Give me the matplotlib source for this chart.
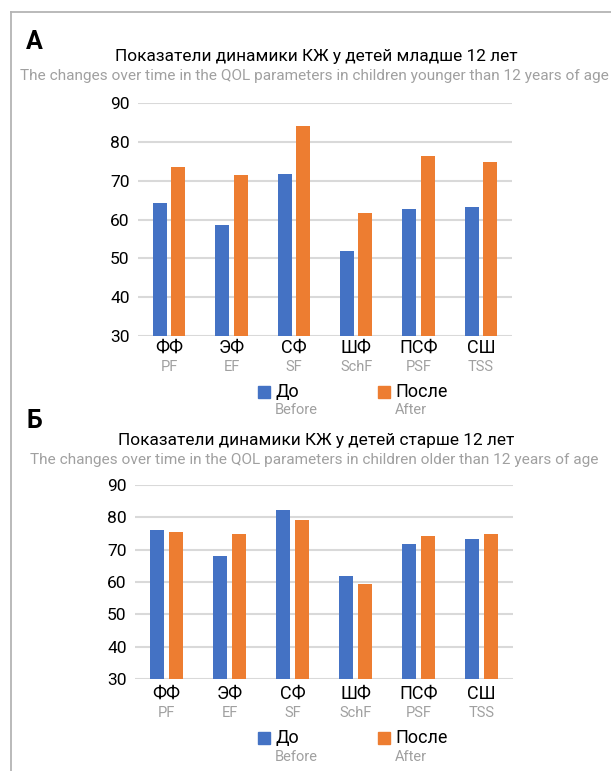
import matplotlib
matplotlib.use("Agg")
import matplotlib.pyplot as plt
from matplotlib.lines import Line2D
from matplotlib.patches import Rectangle

W, H = 611, 771

categories_ru = ["ФФ", "ЭФ", "СФ", "ШФ", "ПСФ", "СШ"]
categories_en = ["PF", "EF", "SF", "SchF", "PSF", "TSS"]
series_ru = ["До", "После"]
series_en = ["Before", "After"]

# Panel A: children younger than 12
young_before = [64.3, 58.5, 71.6, 51.9, 62.6, 63.1]
young_after = [73.5, 71.4, 84.1, 61.6, 76.4, 74.9]

# Panel B: children older than 12
old_before = [76.0, 68.0, 82.4, 61.9, 71.7, 73.3]
old_after = [75.6, 74.8, 79.2, 59.5, 74.2, 74.8]

yticks = [30, 40, 50, 60, 70, 80, 90]

BLUE = "#4472C4"
ORANGE = "#ED7D31"
GRID = "#d9d9d9"
GRAY_TXT = "#a0a0a0"

MAIN_FONT = ["Roboto", "DejaVu Sans"]
TITLE_FONT = ["Roboto", "DejaVu Sans"]

fig = plt.figure(figsize=(W / 100, H / 100), dpi=100)


def fx(px):
    return px / W


def fy(py):
    return 1 - py / H


# page frame
fig.add_artist(Line2D([fx(11), fx(611)], [fy(12), fy(12)], color="#b4b4b4", lw=1.3))
fig.add_artist(Line2D([fx(11), fx(11)], [fy(12), fy(771)], color="#b4b4b4", lw=1.3))


def panel(letter, title_ru, title_en, before, after, box, y_letter, y_title, y_sub,
          y_cat_ru, y_cat_en, y_leg, y_leg_en):
    x0, x1, ytop, ybot = box
    ax = fig.add_axes([fx(x0), fy(ybot), fx(x1) - fx(x0), fy(ytop) - fy(ybot)])
    n = len(categories_ru)
    xs = list(range(n))
    bw = 0.225
    off = 0.145
    ax.bar([x - off for x in xs], [v - 30 for v in before], bottom=30, width=bw,
           color=BLUE, zorder=3)
    ax.bar([x + off for x in xs], [v - 30 for v in after], bottom=30, width=bw,
           color=ORANGE, zorder=3)
    ax.set_xlim(-0.5, n - 0.5)
    ax.set_ylim(30, 90)
    ax.set_yticks(yticks)
    ax.set_yticklabels([str(t) for t in yticks], fontsize=12.5, family=MAIN_FONT)
    ax.tick_params(axis="y", length=0, pad=6)
    ax.set_xticks([])
    for t in yticks:
        ax.axhline(t, color=GRID, lw=1.5, zorder=1)
    for s in ax.spines.values():
        s.set_visible(False)
    ax.set_facecolor("none")

    # category labels (Russian + English)
    for i in xs:
        xc = x0 + (x1 - x0) * (i + 0.5) / n
        fig.text(fx(xc), fy(y_cat_ru), categories_ru[i], ha="center", va="center",
                 fontsize=13, family=MAIN_FONT, color="black")
        fig.text(fx(xc), fy(y_cat_en), categories_en[i], ha="center", va="center",
                 fontsize=10.5, family=MAIN_FONT, color=GRAY_TXT)

    # legend
    for sq_x, col, lab_ru, lab_en in [(258, BLUE, series_ru[0], series_en[0]),
                                      (378, ORANGE, series_ru[1], series_en[1])]:
        fig.add_artist(Rectangle((fx(sq_x), fy(y_leg + 6)), fx(12), 12 / H,
                                 color=col, transform=fig.transFigure))
        fig.text(fx(sq_x + 17), fy(y_leg), lab_ru, ha="left", va="center",
                 fontsize=13, family=MAIN_FONT)
        fig.text(fx(sq_x + 17), fy(y_leg_en), lab_en, ha="left", va="center",
                 fontsize=10.5, family=MAIN_FONT, color=GRAY_TXT)

    fig.text(fx(26), fy(y_letter), letter, ha="left", va="center", fontsize=18,
             fontweight="bold", family=TITLE_FONT)
    fig.text(fx(316), fy(y_title), title_ru, ha="center", va="center", fontsize=12.4,
             family=TITLE_FONT)
    fig.text(fx(314), fy(y_sub), title_en, ha="center", va="center", fontsize=11.1,
             family=TITLE_FONT, color=GRAY_TXT)
    return ax


panel("А", "Показатели динамики КЖ у детей младше 12 лет",
      "The changes over time in the QOL parameters in children younger than 12 years of age",
      young_before, young_after, (138, 512, 103, 336),
      y_letter=42, y_title=57, y_sub=76, y_cat_ru=348, y_cat_en=367,
      y_leg=392, y_leg_en=410)

panel("Б", "Показатели динамики КЖ у детей старше 12 лет",
      "The changes over time in the QOL parameters in children older than 12 years of age",
      old_before, old_after, (135, 513, 485, 679),
      y_letter=421, y_title=440, y_sub=460, y_cat_ru=694, y_cat_en=713,
      y_leg=738, y_leg_en=757)

fig.savefig("out.png", dpi=100, facecolor="white")
